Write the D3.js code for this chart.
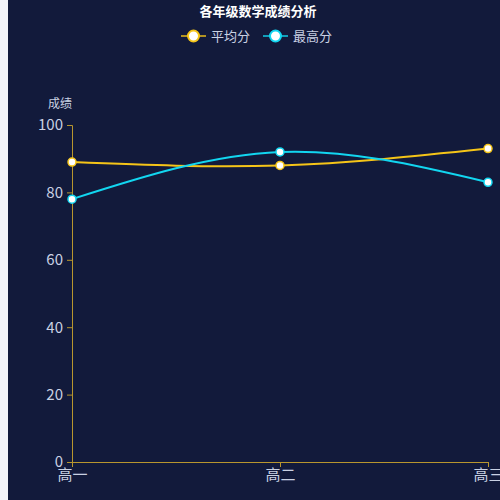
<!DOCTYPE html>
<html><head><meta charset="utf-8">
<script src="https://cdn.jsdelivr.net/npm/d3@7/dist/d3.min.js"></script>
<style>body{margin:0;background:#f3f4f8}svg{display:block}</style>
</head><body>
<svg id="chart" width="500" height="500"></svg>
<script>
var categories = ["高一", "高二", "高三"];
var seriesNames = ["平均分", "最高分"];
var avgScores = [89, 88, 93];
var maxScores = [78, 92, 83];
var yTicks = [0, 20, 40, 60, 80, 100];
var colors = ["#f5c518", "#12d6f0"];

var svg = d3.select("#chart"),
    margin = { top: 125, right: 12, bottom: 38, left: 72 },
    width = 500 - margin.left - margin.right,
    height = 500 - margin.top - margin.bottom;

svg.append("rect").attr("x", 8).attr("width", 492).attr("height", 500).attr("fill", "#121a3b");

var x = d3.scalePoint().domain(categories).range([0, width]),
    y = d3.scaleLinear().domain([0, 100]).range([height, 0]);

var g = svg.append("g").attr("transform", "translate(" + margin.left + "," + margin.top + ")");

var axisColor = "#b8962e", labelColor = "#c9d1e3";

var yAxis = g.append("g").call(d3.axisLeft(y).tickValues(yTicks).tickSize(5).tickPadding(4));
var xAxis = g.append("g").attr("transform", "translate(0," + height + ")")
    .call(d3.axisBottom(x).tickSize(5).tickPadding(2));
[xAxis, yAxis].forEach(function (a) {
    a.selectAll("path,line").attr("stroke", axisColor);
    a.selectAll("text").attr("fill", labelColor).style("font", "15px 'Noto Sans CJK SC', sans-serif");
});

g.append("text").attr("x", -12).attr("y", -17).attr("text-anchor", "middle")
    .attr("fill", labelColor).style("font", "12px 'Noto Sans CJK SC', sans-serif").text("成绩");

var line = d3.line().x(function (d, i) { return x(categories[i]); })
    .y(function (d) { return y(d); }).curve(d3.curveNatural);

[avgScores, maxScores].forEach(function (s, k) {
    g.append("path").datum(s).attr("d", line).attr("fill", "none")
        .attr("stroke", colors[k]).attr("stroke-width", 2);
    g.selectAll(".p" + k).data(s).enter().append("circle")
        .attr("cx", function (d, i) { return x(categories[i]); })
        .attr("cy", function (d) { return y(d); })
        .attr("r", 4).attr("fill", "#fff").attr("stroke", colors[k]).attr("stroke-width", 1.5);
});

svg.append("text").attr("x", 258).attr("y", 16).attr("text-anchor", "middle")
    .attr("fill", "#fff").style("font", "bold 13px 'Noto Sans CJK SC', sans-serif").text("各年级数学成绩分析");

var lg = svg.append("g").attr("transform", "translate(181,36)");
seriesNames.forEach(function (n, k) {
    var item = lg.append("g").attr("transform", "translate(" + (k * 82) + ",0)");
    item.append("line").attr("x1", 0).attr("x2", 25).attr("stroke", colors[k]).attr("stroke-width", 2).attr("opacity", 0.7);
    item.append("circle").attr("cx", 12.5).attr("r", 5.5).attr("fill", "#fff").attr("stroke", colors[k]).attr("stroke-width", 2);
    item.append("text").attr("x", 30).attr("dy", "0.35em").attr("fill", labelColor)
        .style("font", "13px 'Noto Sans CJK SC', sans-serif").text(n);
});
</script>
</body></html>
